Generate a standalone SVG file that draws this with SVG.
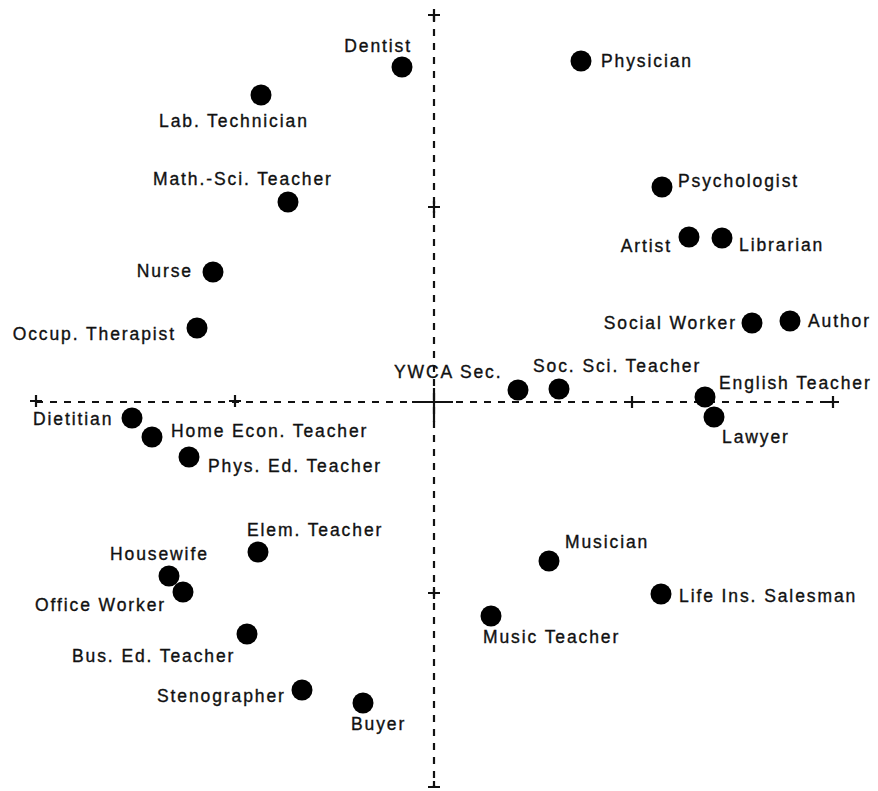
<svg xmlns="http://www.w3.org/2000/svg" width="878" height="791" viewBox="0 0 878 791">
<style>
text{font-family:"Liberation Sans",Arial,sans-serif;font-size:17.5px;letter-spacing:1.9px;fill:#111;stroke:#111;stroke-width:0.35}
.e{text-anchor:end}
circle{fill:#000}
.ax{stroke:#111;stroke-width:2.2;fill:none}
.d{stroke-dasharray:7 7}
</style>
<rect width="878" height="791" fill="#fff"/>
<g id="axes">
<line class="ax d" x1="36" y1="402" x2="833" y2="402"/>
<line class="ax d" x1="434" y1="15" x2="434" y2="787"/>
<line class="ax" x1="412" y1="402" x2="453" y2="402"/>
<line class="ax" x1="434" y1="388" x2="434" y2="422"/>
<path class="ax" d="M30 401h12M36 395v12M229 401h12M235 395v12M626 402h12M632 396v12M827 402h12M833 396v12M428 15h12M434 9v12M428 207h12M434 201v12M428 593h12M434 587v12M428 787h12M434 781v6"/>
</g>
<g id="n-dentist"><circle cx="402" cy="67" r="10.5"/><text x="412" y="52" class="e">Dentist</text></g>
<g id="n-lab"><circle cx="261" cy="95" r="10.5"/><text x="159" y="127">Lab. Technician</text></g>
<g id="n-math"><circle cx="288" cy="202" r="10.5"/><text x="153" y="185">Math.-Sci. Teacher</text></g>
<g id="n-nurse"><circle cx="213" cy="272" r="10.5"/><text x="193" y="277" class="e">Nurse</text></g>
<g id="n-occup"><circle cx="197" cy="328" r="10.5"/><text x="176" y="340" class="e">Occup. Therapist</text></g>
<g id="n-physician"><circle cx="581" cy="61" r="10.5"/><text x="601" y="67">Physician</text></g>
<g id="n-psych"><circle cx="662" cy="187" r="10.5"/><text x="678" y="187">Psychologist</text></g>
<g id="n-artist"><circle cx="689" cy="237" r="10.5"/><text x="672" y="252" class="e">Artist</text></g>
<g id="n-librarian"><circle cx="722" cy="238" r="10.5"/><text x="739" y="251">Librarian</text></g>
<g id="n-social"><circle cx="752" cy="323" r="10.5"/><text x="737" y="329" class="e">Social Worker</text></g>
<g id="n-author"><circle cx="790" cy="321" r="10.5"/><text x="808" y="327">Author</text></g>
<g id="n-ywca"><circle cx="518" cy="390" r="10.5"/><text x="394" y="378">YWCA Sec.</text></g>
<g id="n-socsci"><circle cx="559" cy="389" r="10.5"/><text x="533" y="372">Soc. Sci. Teacher</text></g>
<g id="n-english"><circle cx="705" cy="397" r="10.5"/><text x="719" y="389">English Teacher</text></g>
<g id="n-lawyer"><circle cx="714" cy="417" r="10.5"/><text x="722" y="443">Lawyer</text></g>
<g id="n-dietitian"><circle cx="132" cy="418" r="10.5"/><text x="33" y="425">Dietitian</text></g>
<g id="n-homeecon"><circle cx="152" cy="437" r="10.5"/><text x="171" y="437">Home Econ. Teacher</text></g>
<g id="n-physed"><circle cx="189" cy="457" r="10.5"/><text x="208" y="472">Phys. Ed. Teacher</text></g>
<g id="n-elem"><circle cx="258" cy="552" r="10.5"/><text x="247" y="536">Elem. Teacher</text></g>
<g id="n-housewife"><circle cx="169" cy="576" r="10.5"/><text x="110" y="560">Housewife</text></g>
<g id="n-office"><circle cx="183" cy="592" r="10.5"/><text x="35" y="611">Office Worker</text></g>
<g id="n-bused"><circle cx="247" cy="634" r="10.5"/><text x="72" y="662">Bus. Ed. Teacher</text></g>
<g id="n-steno"><circle cx="302" cy="690" r="10.5"/><text x="157" y="702">Stenographer</text></g>
<g id="n-buyer"><circle cx="363" cy="703" r="10.5"/><text x="351" y="730">Buyer</text></g>
<g id="n-musician"><circle cx="549" cy="561" r="10.5"/><text x="565" y="548">Musician</text></g>
<g id="n-lifeins"><circle cx="661" cy="594" r="10.5"/><text x="679" y="602">Life Ins. Salesman</text></g>
<g id="n-musicteacher"><circle cx="491" cy="616" r="10.5"/><text x="483" y="643">Music Teacher</text></g>
</svg>
